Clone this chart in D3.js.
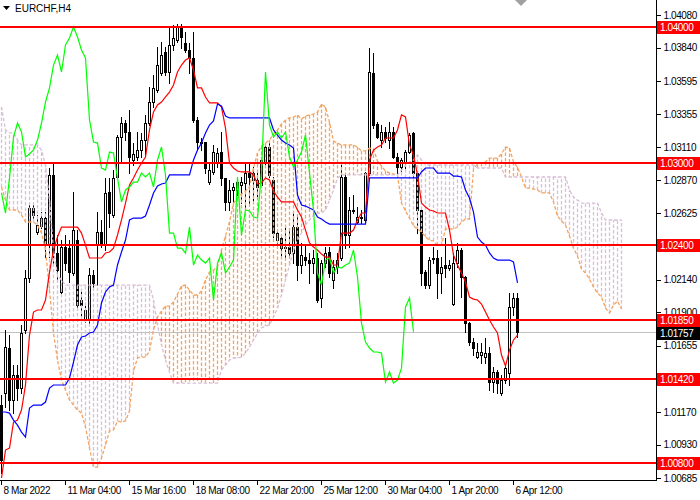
<!DOCTYPE html>
<html>
<head>
<meta charset="utf-8">
<script src="https://cdn.jsdelivr.net/npm/d3@7"></script>
<style>
html, body { margin: 0; padding: 0; background: #fff; overflow: hidden; }
svg { display: block; font-family: "Liberation Sans", Arial, sans-serif; }
</style>
</head>
<body>
<script>

var symbolName = "EURCHF,H4";

// H4 candles, oldest first
var openP = [1.01220,1.01308,1.01638,1.01257,1.01440,1.01345,1.01770,1.02151,1.02665,1.02489,
    1.02533,1.02591,1.02393,1.02907,1.02335,1.02049,1.02379,1.02371,1.02188,1.02430,
    1.01990,1.01843,1.01843,1.02173,1.02393,1.02489,1.02393,1.02782,1.02613,1.02892,
    1.03185,1.03288,1.03222,1.03017,1.03039,1.03090,1.03163,1.03288,1.03442,1.03530,
    1.03655,1.03809,1.03662,1.03860,1.03897,1.03992,1.03875,1.03823,1.03765,1.03310,
    1.03149,1.03149,1.02855,1.02929,1.02995,1.03075,1.02885,1.02709,1.02797,1.02797,
    1.02833,1.02848,1.02921,1.02870,1.02870,1.02833,1.03002,1.03112,1.02870,1.02430,
    1.02445,1.02379,1.02379,1.02335,1.02525,1.02247,1.02305,1.02283,1.02261,1.02298,
    1.02005,1.02261,1.02342,1.02137,1.02232,1.02298,1.02892,1.02467,1.02650,1.02562,
    1.02599,1.02577,1.02921,1.03655,1.03281,1.03163,1.03222,1.03163,1.03222,1.03039,
    1.02965,1.03002,1.03075,1.03215,1.02921,1.02650,1.02195,1.02100,1.02291,1.02298,
    1.02188,1.02247,1.02225,1.01961,1.02261,1.02357,1.02159,1.01821,1.01682,1.01572,
    1.01587,1.01572,1.01601,1.01389,1.01462,1.01308,1.01403,1.01455,1.01939,1.02005];

var highP = [1.01293,1.01770,1.01733,1.01513,1.01513,1.01807,1.02210,1.02694,1.02694,1.02613,
    1.02635,1.02635,1.02958,1.03002,1.02467,1.02430,1.02467,1.02430,1.02782,1.02503,
    1.02063,1.01953,1.02225,1.02210,1.02635,1.02577,1.02885,1.02885,1.02943,1.03200,
    1.03332,1.03310,1.03383,1.03141,1.03222,1.03215,1.03347,1.03552,1.03640,1.03845,
    1.03882,1.03845,1.03992,1.04007,1.04014,1.04014,1.03955,1.03875,1.03955,1.03332,
    1.03178,1.03149,1.02995,1.03127,1.03105,1.03222,1.02885,1.02870,1.02848,1.02885,
    1.02892,1.02995,1.02995,1.02965,1.02943,1.03039,1.03141,1.03141,1.02892,1.02503,
    1.02467,1.02525,1.02503,1.02628,1.02599,1.02408,1.02393,1.02335,1.02357,1.02335,
    1.02283,1.02379,1.02379,1.02283,1.02335,1.02980,1.02907,1.02745,1.02760,1.02672,
    1.02650,1.02929,1.03838,1.03801,1.03295,1.03273,1.03259,1.03295,1.03259,1.03068,
    1.03031,1.03090,1.03215,1.03222,1.02929,1.02672,1.02210,1.02305,1.02379,1.02357,
    1.02305,1.02445,1.02283,1.02335,1.02408,1.02371,1.02166,1.01829,1.01711,1.01675,
    1.01675,1.01711,1.01645,1.01499,1.01477,1.01440,1.01513,1.02041,1.02041,1.02041];

var lowP = [1.00721,1.01205,1.01183,1.01161,1.01257,1.01308,1.01748,1.02122,1.02577,1.02474,
    1.02518,1.02305,1.02305,1.02261,1.02137,1.02027,1.02210,1.02122,1.02173,1.01931,
    1.01880,1.01829,1.01821,1.02063,1.02100,1.02379,1.02357,1.02525,1.02599,1.02885,
    1.02995,1.03163,1.02921,1.02980,1.03017,1.03039,1.03053,1.03273,1.03405,1.03515,
    1.03640,1.03640,1.03581,1.03823,1.03882,1.03838,1.03809,1.03655,1.03295,1.03090,
    1.03090,1.02921,1.02841,1.02914,1.02965,1.02833,1.02650,1.02650,1.02709,1.02760,
    1.02701,1.02672,1.02701,1.02701,1.02745,1.02819,1.02965,1.02892,1.02452,1.02393,
    1.02298,1.02305,1.02305,1.02261,1.02137,1.02188,1.02247,1.02115,1.02188,1.01975,
    1.01939,1.02232,1.02159,1.02078,1.02188,1.02283,1.02371,1.02379,1.02628,1.02555,
    1.02555,1.02562,1.02907,1.03251,1.03178,1.03112,1.03149,1.03105,1.03031,1.02921,
    1.02921,1.02943,1.03068,1.02892,1.02481,1.02100,1.02078,1.02078,1.02261,1.02005,
    1.02041,1.02159,1.02210,1.01953,1.02232,1.02012,1.01755,1.01660,1.01587,1.01565,
    1.01528,1.01528,1.01330,1.01315,1.01308,1.01293,1.01381,1.01367,1.01880,1.01719];

var closeP = [1.00817,1.01645,1.01257,1.01440,1.01345,1.01748,1.02151,1.02665,1.02613,1.02540,
    1.02591,1.02393,1.02907,1.02335,1.02210,1.02379,1.02261,1.02195,1.02503,1.01953,
    1.01953,1.01917,1.02173,1.02115,1.02489,1.02408,1.02775,1.02628,1.02885,1.03185,
    1.03288,1.03222,1.03039,1.03061,1.03090,1.03163,1.03288,1.03442,1.03545,1.03713,
    1.03787,1.03662,1.03860,1.03911,1.03992,1.03919,1.03823,1.03765,1.03310,1.03149,
    1.03141,1.02958,1.02943,1.03075,1.03068,1.02885,1.02709,1.02797,1.02819,1.02855,
    1.02855,1.02921,1.02892,1.02921,1.02819,1.03017,1.03112,1.02907,1.02481,1.02481,
    1.02371,1.02371,1.02335,1.02525,1.02247,1.02320,1.02283,1.02261,1.02298,1.01990,
    1.02261,1.02335,1.02188,1.02232,1.02283,1.02892,1.02467,1.02650,1.02643,1.02599,
    1.02591,1.02921,1.03662,1.03273,1.03185,1.03222,1.03178,1.03222,1.03039,1.02965,
    1.03017,1.03075,1.03200,1.02921,1.02650,1.02188,1.02100,1.02283,1.02298,1.02188,
    1.02232,1.02225,1.02247,1.02261,1.02357,1.02159,1.01821,1.01682,1.01638,1.01609,
    1.01609,1.01601,1.01389,1.01462,1.01381,1.01403,1.01491,1.01939,1.02005,1.01757];

// ichimoku lines as shown on the chart
var tenkan = [1.00685,1.00890,1.00905,1.01095,1.01110,1.01183,1.01367,1.01733,1.01902,1.01917,
    1.01917,1.01990,1.02195,1.02357,1.02452,1.02525,1.02525,1.02525,1.02525,1.02525,
    1.02481,1.02393,1.02298,1.02298,1.02298,1.02298,1.02335,1.02342,1.02371,1.02467,
    1.02577,1.02701,1.02833,1.02885,1.02943,1.02995,1.03039,1.03237,1.03369,1.03420,
    1.03442,1.03479,1.03515,1.03567,1.03662,1.03713,1.03750,1.03765,1.03677,1.03545,
    1.03545,1.03479,1.03435,1.03435,1.03435,1.03405,1.03251,1.02995,1.02958,1.02936,
    1.02929,1.02929,1.02929,1.02907,1.02841,1.02848,1.02885,1.02870,1.02789,1.02745,
    1.02709,1.02709,1.02709,1.02709,1.02650,1.02599,1.02503,1.02408,1.02379,1.02357,
    1.02327,1.02305,1.02305,1.02247,1.02247,1.02481,1.02481,1.02481,1.02503,1.02577,
    1.02628,1.02628,1.03017,1.03090,1.03112,1.03127,1.03178,1.03178,1.03178,1.03237,
    1.03347,1.03332,1.03127,1.03053,1.02907,1.02701,1.02672,1.02650,1.02643,1.02628,
    1.02628,1.02628,1.02503,1.02320,1.02247,1.02188,1.02122,1.02012,1.01997,1.01990,
    1.01961,1.01902,1.01843,1.01792,1.01748,1.01587,1.01506,1.01623,1.01697,1.01733];

var kijun = [1.01169,1.01169,1.01161,1.01110,1.01073,1.01022,1.00985,1.01198,1.01220,1.01220,
    1.01220,1.01242,1.01345,1.01367,1.01367,1.01367,1.01367,1.01418,1.01535,1.01660,
    1.01719,1.01726,1.01748,1.01755,1.01807,1.01968,1.02049,1.02085,1.02100,1.02247,
    1.02342,1.02430,1.02577,1.02591,1.02591,1.02591,1.02606,1.02687,1.02775,1.02826,
    1.02841,1.02848,1.02907,1.02907,1.02907,1.02907,1.02907,1.02907,1.03017,1.03090,
    1.03141,1.03215,1.03273,1.03303,1.03427,1.03413,1.03339,1.03325,1.03325,1.03325,
    1.03325,1.03325,1.03325,1.03325,1.03325,1.03325,1.03325,1.03325,1.03237,1.03200,
    1.03163,1.03141,1.03127,1.03105,1.02760,1.02687,1.02679,1.02665,1.02650,1.02599,
    1.02584,1.02562,1.02547,1.02547,1.02547,1.02547,1.02547,1.02547,1.02547,1.02547,
    1.02547,1.02547,1.02885,1.02885,1.02885,1.02885,1.02885,1.02885,1.02885,1.02885,
    1.02885,1.02885,1.02885,1.02885,1.02885,1.02929,1.02958,1.02958,1.02958,1.02921,
    1.02921,1.02921,1.02921,1.02899,1.02899,1.02892,1.02797,1.02738,1.02635,1.02452,
    1.02415,1.02393,1.02335,1.02298,1.02283,1.02283,1.02283,1.02283,1.02269,1.02115];

// senkou spans, already shifted forward (26 bars past the last candle)
var spanA = [1.02819,1.02723,1.02650,1.02650,1.02650,1.02613,1.02562,1.02562,1.02562,1.02540,
    1.02481,1.02357,1.02063,1.01748,1.01550,1.01403,1.01330,1.01257,1.01220,1.01183,
    1.01161,1.01059,1.00905,1.00765,1.00765,1.00831,1.00927,1.01029,1.01037,1.01103,
    1.01095,1.01103,1.01176,1.01469,1.01565,1.01572,1.01572,1.01616,1.01770,1.01865,
    1.01909,1.01946,1.01946,1.01975,1.02034,1.02093,1.02100,1.02063,1.02027,1.02027,
    1.02056,1.02137,1.02195,1.02210,1.02232,1.02357,1.02459,1.02562,1.02701,1.02738,
    1.02767,1.02789,1.02819,1.02958,1.03068,1.03119,1.03141,1.03163,1.03207,1.03237,
    1.03281,1.03310,1.03325,1.03332,1.03347,1.03317,1.03339,1.03347,1.03354,1.03369,
    1.03427,1.03405,1.03295,1.03156,1.03141,1.03127,1.03127,1.03127,1.03127,1.03112,
    1.03083,1.03083,1.03105,1.03097,1.03009,1.02973,1.02936,1.02921,1.02914,1.02907,
    1.02701,1.02643,1.02591,1.02533,1.02511,1.02489,1.02452,1.02430,1.02423,1.02393,
    1.02393,1.02511,1.02511,1.02511,1.02525,1.02562,1.02584,1.02584,1.02951,1.02987,
    1.02995,1.03002,1.03031,1.03031,1.03031,1.03061,1.03112,1.03105,1.03002,1.02965,
    1.02892,1.02811,1.02811,1.02804,1.02797,1.02775,1.02775,1.02775,1.02709,1.02606,
    1.02569,1.02540,1.02459,1.02371,1.02313,1.02217,1.02188,1.02144,1.02085,1.02041,
    1.02012,1.01931,1.01895,1.01953,1.01983,1.01924];

var spanB = [1.03405,1.03237,1.03215,1.03215,1.03163,1.03127,1.03127,1.03127,1.03127,1.03127,
    1.03090,1.02980,1.02723,1.02357,1.02173,1.02137,1.02100,1.02100,1.02100,1.02100,
    1.02100,1.02100,1.02100,1.02100,1.02100,1.02100,1.02100,1.02100,1.02100,1.02100,
    1.02100,1.02100,1.02100,1.02100,1.02100,1.02100,1.02100,1.02100,1.01990,1.01807,
    1.01660,1.01550,1.01462,1.01381,1.01381,1.01381,1.01381,1.01381,1.01381,1.01381,
    1.01381,1.01381,1.01381,1.01381,1.01381,1.01477,1.01513,1.01550,1.01565,1.01565,
    1.01572,1.01601,1.01645,1.01697,1.01748,1.01785,1.01799,1.01807,1.01865,1.01931,
    1.02027,1.02137,1.02247,1.02357,1.02430,1.02481,1.02540,1.02577,1.02613,1.02628,
    1.02628,1.02650,1.02723,1.02797,1.02885,1.02907,1.02907,1.02907,1.02907,1.02907,
    1.02907,1.02907,1.02907,1.02907,1.02907,1.02907,1.02907,1.02907,1.02907,1.02907,
    1.02943,1.02980,1.03002,1.03017,1.03053,1.03017,1.02980,1.02980,1.02980,1.02980,
    1.02980,1.02980,1.02980,1.02980,1.02980,1.02980,1.02980,1.02980,1.02980,1.02958,
    1.02958,1.02958,1.02958,1.02958,1.02958,1.02958,1.02892,1.02892,1.02892,1.02892,
    1.02892,1.02892,1.02892,1.02892,1.02892,1.02892,1.02892,1.02892,1.02892,1.02892,
    1.02892,1.02892,1.02797,1.02745,1.02723,1.02701,1.02701,1.02701,1.02701,1.02701,
    1.02628,1.02577,1.02577,1.02577,1.02577,1.02577];

var chikouShift = 26;

// horizontal levels drawn on the chart
var levels = [1.04000, 1.03000, 1.02400, 1.01850, 1.01420, 1.00800];
var lastPrice = 1.01757;

var priceTicks = [1.04080, 1.03840, 1.03595, 1.03355, 1.03110, 1.02870, 1.02625,
    1.02140, 1.01900, 1.01655, 1.01170, 1.00930, 1.00685];

var timeTicks = [0, 16, 32, 48, 64, 80, 96, 112, 128];
var timeLabels = ["8 Mar 2022", "11 Mar 04:00", "15 Mar 16:00", "18 Mar 08:00", "22 Mar 20:00",
    "25 Mar 12:00", "30 Mar 04:00", "1 Apr 20:00", "6 Apr 12:00"];


function main() {

    var width = 700;
    var height = 500;
    var plotW = 656;
    var plotH = 480;
    var fmt = d3.format('.5f');
    var upKumo = '#f4a460';   // sandybrown
    var downKumo = '#d8bfd8'; // thistle

    var svg = d3.select('body').append('svg')
        .attr('width', width)
        .attr('height', height);

    svg.append('defs').append('clipPath').attr('id', 'clip')
        .append('rect').attr('width', plotW).attr('height', plotH);

    var x = d3.scaleLinear().domain([0, 130]).range([1, 521]); // 4px per bar
    var y = d3.scaleLinear().domain([1.00685, 1.04080]).range([478, 15]);
    var px = function (i) { return Math.round(x(i)); };
    var py = function (v) { return Math.round(y(v)); };

    var plot = svg.append('g').attr('clip-path', 'url(#clip)');

    // bid line
    plot.append('line')
        .attr('x1', 0).attr('x2', plotW)
        .attr('y1', py(lastPrice) + 0.5).attr('y2', py(lastPrice) + 0.5)
        .attr('stroke', '#c0c0c0');

    // candles
    var bars = d3.range(closeP.length);
    var cg = plot.append('g').attr('shape-rendering', 'crispEdges');

    cg.selectAll('line.wick').data(bars).enter().append('line')
        .attr('class', 'wick')
        .attr('x1', i => px(i) + 0.5).attr('x2', i => px(i) + 0.5)
        .attr('y1', i => py(highP[i])).attr('y2', i => py(lowP[i]) + 1)
        .attr('stroke', '#000');

    cg.selectAll('rect.body').data(bars).enter().append('rect')
        .attr('class', 'body')
        .attr('x', i => px(i) - 1)
        .attr('width', 3)
        .attr('y', i => py(Math.max(openP[i], closeP[i])))
        .attr('height', i => Math.abs(py(openP[i]) - py(closeP[i])) + 1)
        .attr('fill', '#000');

    // bull candles are hollow
    var bulls = bars.filter(i => closeP[i] > openP[i] && py(openP[i]) - py(closeP[i]) >= 2);
    cg.selectAll('rect.hollow').data(bulls).enter().append('rect')
        .attr('class', 'hollow')
        .attr('x', i => px(i))
        .attr('width', 1)
        .attr('y', i => py(closeP[i]) + 1)
        .attr('height', i => py(openP[i]) - py(closeP[i]) - 1)
        .attr('fill', '#fff');

    // kumo hatch, one dotted stroke per bar
    var kumo = d3.range(spanA.length);
    plot.append('g').selectAll('line').data(kumo).enter().append('line')
        .attr('x1', i => px(i) + 0.5).attr('x2', i => px(i) + 0.5)
        .attr('y1', i => y(spanA[i])).attr('y2', i => y(spanB[i]))
        .style('stroke', i => spanA[i] >= spanB[i] ? upKumo : downKumo)
        .style('stroke-width', 1.3)
        .style('stroke-dasharray', '3.5,2');

    var lineOf = function () {
        return d3.line().x((d, i) => x(i) + 0.5).y(d => y(d));
    };

    plot.append('path').datum(spanA)
        .attr('d', lineOf())
        .attr('fill', 'none').attr('stroke', upKumo).attr('stroke-width', 1.3)
        .attr('stroke-dasharray', '3.5,2');
    plot.append('path').datum(spanB)
        .attr('d', lineOf())
        .attr('fill', 'none').attr('stroke', downKumo).attr('stroke-width', 1.3)
        .attr('stroke-dasharray', '3.5,2');

    plot.append('path').datum(tenkan)
        .attr('d', lineOf())
        .attr('fill', 'none').attr('stroke', '#ff0000').attr('stroke-width', 1.2);
    plot.append('path').datum(kijun)
        .attr('d', lineOf())
        .attr('fill', 'none').attr('stroke', '#0000ff').attr('stroke-width', 1.2);

    // chikou = closes moved back 26 bars
    var chikou = closeP.slice(chikouShift);
    plot.append('path').datum(chikou)
        .attr('d', lineOf())
        .attr('fill', 'none').attr('stroke', '#00ff00').attr('stroke-width', 1.2);

    // axes
    var yAxis = d3.axisRight(y).tickValues(priceTicks).tickSize(4).tickPadding(3).tickFormat(fmt);
    var ya = svg.append('g').attr('transform', 'translate(' + (plotW + 0.5) + ',0)').call(yAxis);
    ya.select('.domain').remove();

    var xAxis = d3.axisBottom(x).tickValues(timeTicks).tickSize(4).tickPadding(2)
        .tickFormat((d, i) => timeLabels[i]);
    var xa = svg.append('g').attr('transform', 'translate(0,' + (plotH + 0.5) + ')').call(xAxis);
    xa.select('.domain').remove();
    xa.selectAll('text').attr('text-anchor', 'start').attr('dx', 2);

    svg.selectAll('.tick text')
        .attr('font-family', '"Liberation Sans", Arial, sans-serif')
        .attr('font-size', 10)
        .attr('letter-spacing', '-0.4px')
        .attr('fill', '#000');
    svg.selectAll('.tick line').attr('stroke', '#000').attr('shape-rendering', 'crispEdges');

    svg.append('line')
        .attr('x1', plotW + 0.5).attr('x2', plotW + 0.5)
        .attr('y1', 0).attr('y2', plotH + 1)
        .attr('stroke', '#000');
    svg.append('line')
        .attr('x1', 0).attr('x2', plotW + 1)
        .attr('y1', plotH + 0.5).attr('y2', plotH + 0.5)
        .attr('stroke', '#000');

    // level lines and their price boxes
    var lg = svg.append('g');
    lg.selectAll('line').data(levels).enter().append('line')
        .attr('x1', 0).attr('x2', plotW)
        .attr('y1', d => py(d) + 1).attr('y2', d => py(d) + 1)
        .attr('stroke', '#ff0000').attr('stroke-width', 2);

    var boxes = levels.map(v => ({ v: v, bg: '#ff0000' })).concat([{ v: lastPrice, bg: '#000' }]);
    var bg = svg.append('g');
    bg.selectAll('rect').data(boxes).enter().append('rect')
        .attr('x', plotW + 1).attr('width', width - plotW - 1)
        .attr('y', d => py(d.v) - 5).attr('height', 13)
        .attr('fill', d => d.bg);
    bg.selectAll('text').data(boxes).enter().append('text')
        .attr('x', plotW + 4).attr('y', d => py(d.v) + 5)
        .attr('font-size', 10).attr('letter-spacing', '-0.4px')
        .attr('fill', '#fff')
        .text(d => fmt(d.v));

    // symbol caption
    svg.append('path').attr('d', 'M3,6 L10,6 L6.5,10 Z').attr('fill', '#000');
    svg.append('text')
        .attr('x', 15).attr('y', 11.5)
        .attr('font-size', 10)
        .attr('fill', '#000')
        .text(symbolName);

    // chart shift marker
    svg.append('path').attr('d', 'M515,0 L527,0 L521,6 Z').attr('fill', '#a0a0a0');
}

main();
</script>
</body>
</html>
